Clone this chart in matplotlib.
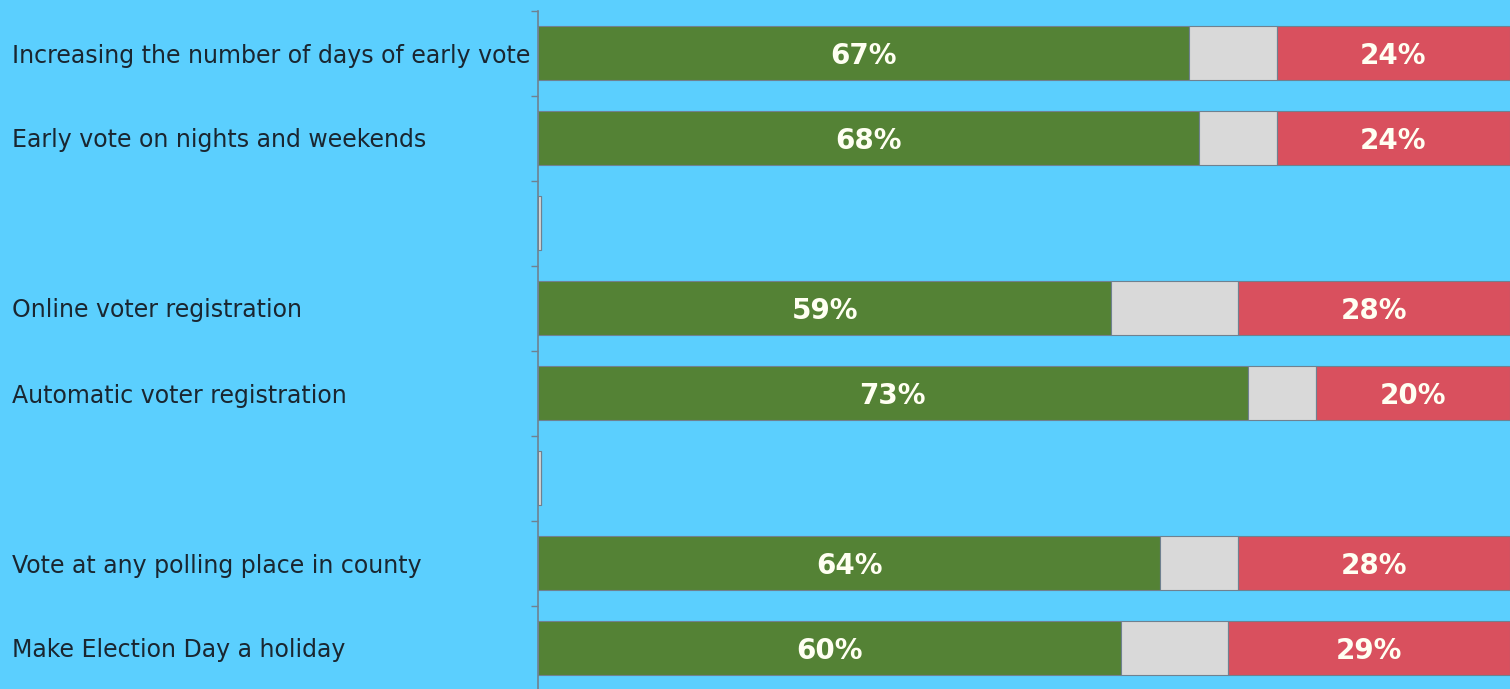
import matplotlib
matplotlib.use("Agg")
import matplotlib.pyplot as plt
import numpy as np
from matplotlib.ticker import FixedLocator

categories = [
    "Increasing the number of days of early vote",
    "Early vote on nights and weekends",
    "",
    "Online voter registration",
    "Automatic voter registration",
    "",
    "Vote at any polling place in county",
    "Make Election Day a holiday",
]
support = [67, 68, 0, 59, 73, 0, 64, 60]
unsure = [9, 8, 0.35, 13, 7, 0.35, 8, 11]
oppose = [24, 24, 0, 28, 20, 0, 28, 29]

BG = "#5BCFFE"
GREEN = "#548235"
GREY = "#D9D9D9"
RED = "#D9505E"
EDGE = "#6F8190"

W, H = 1510, 689
fig = plt.figure(figsize=(W / 100, H / 100), dpi=100, facecolor=BG)
ax = fig.add_axes([538 / W, -1.5 / H, 1 - 538 / W, 680 / H])
ax.set_facecolor(BG)

y = np.arange(len(categories))
h = 0.635
s = np.array(support, float)
u = np.array(unsure, float)
o = np.array(oppose, float)

ax.barh(y, s, height=h, color=GREEN, edgecolor=EDGE, linewidth=0.8)
ax.barh(y, u, left=s, height=h, color=GREY, edgecolor=EDGE, linewidth=0.8)
ax.barh(y, o, left=s + u, height=h, color=RED, edgecolor=EDGE, linewidth=0.8)

lab_kw = dict(ha="center", va="center", color="#FFFFF2", fontsize=20,
              fontweight="bold", family="DejaVu Sans")
for i in range(len(categories)):
    if s[i] > 0:
        ax.text(s[i] / 2, y[i] + 0.03, f"{int(s[i])}%", **lab_kw)
    if o[i] > 0:
        ax.text(s[i] + u[i] + o[i] / 2, y[i] + 0.03, f"{int(o[i])}%", **lab_kw)

ax.set_xlim(0, 100)
ax.set_ylim(len(categories) - 0.5, -0.5)
ax.set_xticks([])
ax.set_yticks(y)
ax.set_yticklabels(categories, fontsize=17, color="#1A2630",
                   family="DejaVu Sans")
pad_pt = (538 - 12) * 72 / 100
for lab in ax.get_yticklabels():
    lab.set_ha("left")
ax.tick_params(axis="y", which="major", length=0, pad=pad_pt)
ax.yaxis.set_minor_locator(FixedLocator(np.arange(-0.5, len(categories), 1)))
ax.tick_params(axis="y", which="minor", length=5, width=1, color=EDGE)

for sp in ["top", "right", "bottom"]:
    ax.spines[sp].set_visible(False)
ax.spines["left"].set_color(EDGE)
ax.spines["left"].set_linewidth(1.2)

fig.savefig("out.png", dpi=100, facecolor=BG)
